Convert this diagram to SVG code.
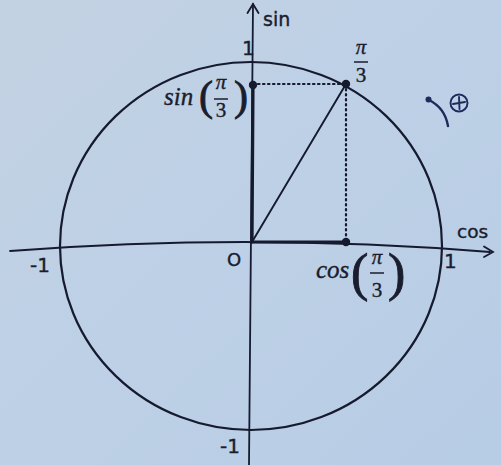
<svg xmlns="http://www.w3.org/2000/svg" width="501" height="465" viewBox="0 0 501 465">
<defs>
<linearGradient id="bg" x1="0" y1="0" x2="1" y2="1">
<stop offset="0" stop-color="#c3d2e2"/>
<stop offset="0.5" stop-color="#bdd0e6"/>
<stop offset="1" stop-color="#b7cce5"/>
</linearGradient>
</defs>
<style>
.ln{fill:none;stroke:#161a2e;stroke-linecap:round}
.ax{stroke-width:1.8}
.thick{stroke-width:3.2}
.dot{stroke-width:2.2;stroke-dasharray:1.5 3.5}
.sans{font-family:"DejaVu Sans",sans-serif;fill:#1a1d2e;stroke:#1a1d2e;stroke-width:0.4}
.math{font-family:"Liberation Serif",serif;fill:#1a1d2e;stroke:#1a1d2e;stroke-width:0.35}
.par{stroke-width:0.9}
.it{font-style:italic}
.fr{stroke:#1a1d2e;stroke-width:1.5}
.ink{fill:none;stroke:#1c2a5c;stroke-linecap:round}
</style>
<rect width="501" height="465" fill="url(#bg)"/>
<g id="circle">
<ellipse class="ln" cx="251" cy="246" rx="191" ry="184" stroke-width="2.2"/>
</g>
<g id="connectors">
<path class="ln ax" d="M10 251 Q252 232.5 490 252"/>
<path class="ln ax" d="M484 246.5 L493 252 L484 257"/>
<path class="ln ax" d="M249 465 L253 4"/>
<path class="ln ax" d="M247.5 13 L253 4 L258.5 13"/>
<path class="ln thick" d="M252 242 L253 84"/>
<path class="ln thick" d="M252 242 L346 242"/>
<path class="ln" stroke-width="1.9" d="M252 242 L346 84"/>
<path class="ln dot" d="M258 84 L342 84"/>
<path class="ln dot" d="M346 89 L346 238"/>
</g>
<g id="points">
<circle cx="253" cy="85" r="4.2" fill="#161a2e"/>
<circle cx="346" cy="84" r="4.2" fill="#161a2e"/>
<circle cx="346" cy="242" r="4.2" fill="#161a2e"/>
</g>
<g id="axis-labels">
<text class="sans" x="263" y="26" font-size="19">sin</text>
<text class="sans" x="457" y="238" font-size="18.5">cos</text>
<text class="sans" x="242" y="55" font-size="20">1</text>
<text class="sans" x="444" y="268" font-size="20">1</text>
<text class="sans" x="30" y="272" font-size="20">-1</text>
<text class="sans" x="220" y="453" font-size="20">-1</text>
<text class="sans" x="227" y="266" font-size="18">O</text>
</g>
<g id="label-pi3">
<text class="math it" x="361" y="54" font-size="21" text-anchor="middle">π</text>
<line class="fr" x1="354" y1="62" x2="368" y2="62"/>
<text class="math" x="361" y="82" font-size="21" text-anchor="middle">3</text>
</g>
<g id="label-sin">
<text class="math it" x="164" y="105" font-size="25">sin</text>
<text class="math par" x="199" y="110" font-size="42">(</text>
<text class="math it" x="221" y="89" font-size="21" text-anchor="middle">π</text>
<line class="fr" x1="214" y1="99" x2="228" y2="99"/>
<text class="math" x="221" y="117" font-size="21" text-anchor="middle">3</text>
<text class="math par" x="234" y="110" font-size="42">)</text>
</g>
<g id="label-cos">
<text class="math it" x="316" y="278" font-size="25">cos</text>
<text class="math par" x="351" y="290" font-size="52">(</text>
<text class="math it" x="377" y="264" font-size="21" text-anchor="middle">π</text>
<line class="fr" x1="370" y1="273" x2="384" y2="273"/>
<text class="math" x="377" y="297" font-size="21" text-anchor="middle">3</text>
<text class="math par" x="388" y="290" font-size="52">)</text>
</g>
<g id="orientation">
<path class="ink" stroke-width="2.4" d="M448 126 Q445 108 429 100"/>
<circle cx="428.5" cy="99.5" r="3" fill="#1c2a5c"/>
<circle class="ink" cx="459" cy="103" r="8.5" stroke-width="1.9"/>
<path class="ink" stroke-width="1.9" d="M453 104 L465 102 M459 97 L459.5 109"/>
</g>
</svg>
